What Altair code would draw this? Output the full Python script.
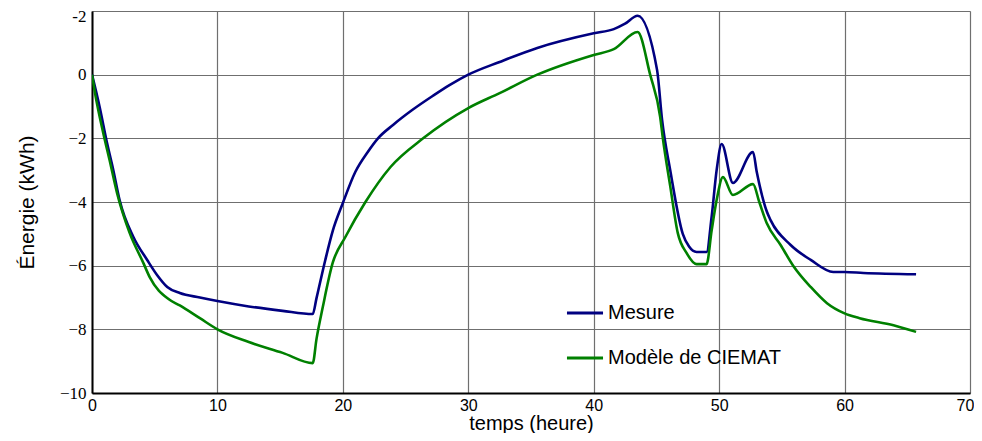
import altair as alt
import pandas as pd

# Mesure (blue)
t_mes = [0, 0.6, 1.2, 1.7, 2.2, 3.3, 4.4, 5.2, 6.0, 7.0, 8.6, 10.0, 12.5, 15.2, 17.6,
         17.9, 18.6, 19.2, 20.0, 21.0, 22.0, 22.8, 24.0, 25.5, 27.2, 28.5, 30.0, 32.5, 35.5,
         40.0, 41.6, 42.5, 43.5, 45.05, 45.45, 46.1, 47.1, 47.6, 48.2, 49.0, 49.4, 49.8,
         50.2, 51.1, 52.7, 53.0, 53.8, 54.1, 55.7, 57.3, 59.1, 60.0, 61.5, 65.7]
e_mes = [0, -1.0, -2.15, -3.0, -3.94, -5.1, -5.82, -6.3, -6.67, -6.86, -7.0, -7.11, -7.28, -7.42, -7.52,
         -7.02, -5.82, -4.9, -4.03, -3.05, -2.42, -2.0, -1.58, -1.12, -0.66, -0.33, 0.0, 0.4, 0.84,
         1.3, 1.43, 1.6, 1.85, 0.15, -1.42, -3.0, -5.0, -5.4, -5.57, -5.57, -4.47, -3.0,
         -2.18, -3.4, -2.43, -3.06, -4.3, -4.57, -5.35, -5.82, -6.2, -6.2, -6.23, -6.27]

# Modèle de CIEMAT (green)
t_mod = [0, 0.24, 0.9, 1.4, 2.0, 3.0, 4.1, 4.6, 6.1, 7.0, 8.6, 10.0, 12.5, 15.2, 17.6,
         17.9, 18.4, 19.2, 20.2, 21.8, 23.8, 26.4, 30.0, 32.5, 35.5, 40.0, 41.6, 43.5,
         44.5, 45.3, 45.5, 46.1, 46.7, 47.4, 48.2, 49.0, 49.4, 49.8, 50.3, 51.1, 52.7,
         53.2, 53.8, 54.9, 55.9, 57.3, 58.6, 60.0, 61.2, 63.9, 65.7]
e_mod = [0, -0.58, -1.84, -2.68, -3.72, -4.97, -5.92, -6.36, -7.05, -7.25, -7.65, -8.0, -8.4, -8.74, -9.06,
         -8.3, -7.3, -5.9, -5.1, -4.0, -2.9, -2.0, -1.05, -0.58, 0.0, 0.62, 0.8, 1.34,
         0.0, -1.33, -1.96, -3.5, -4.97, -5.6, -5.95, -5.95, -4.9, -3.94, -3.22, -3.78, -3.44,
         -4.0, -4.67, -5.35, -6.0, -6.67, -7.18, -7.5, -7.65, -7.87, -8.08]

series = ["Mesure", "Modèle de CIEMAT"]
colors = ["#000080", "#008000"]
x_ticks = [0, 10, 20, 30, 40, 50, 60, 70]
y_ticks = [-10, -8, -6, -4, -2, 0, 2]

df = pd.concat([
    pd.DataFrame({"t": t_mes, "E": e_mes, "serie": series[0], "i": range(len(t_mes))}),
    pd.DataFrame({"t": t_mod, "E": e_mod, "serie": series[1], "i": range(len(t_mod))}),
])

chart = alt.Chart(df).mark_line(strokeWidth=2.6, clip=True, interpolate="monotone").encode(
    x=alt.X("t:Q", scale=alt.Scale(domain=[0, 70], nice=False),
            axis=alt.Axis(values=x_ticks, title="temps (heure)", grid=True,
                          gridColor="#6f6f6f", gridWidth=1.2, gridOpacity=1,
                          domainColor="black", domainWidth=2, ticks=False,
                          labelPadding=4, labelFont="Liberation Sans", labelFontSize=16,
                          labelColor="black", labelFlush=False,
                          labelOffset={"condition": {"test": "datum.value == 70", "value": -5},
                                       "value": 0},
                          titleFont="Liberation Sans", titleFontSize=20, titleFontWeight="normal",
                          titleColor="black", titlePadding=0)),
    y=alt.Y("E:Q", scale=alt.Scale(domain=[-10, 2], nice=False),
            axis=alt.Axis(values=y_ticks, title="Énergie (kWh)", grid=True,
                          gridColor="#6f6f6f", gridWidth=1.2, gridOpacity=1,
                          domainColor="black", domainWidth=2, ticks=False,
                          labelPadding=6, labelFont="Liberation Serif", labelFontSize=17,
                          labelColor="black",
                          labelOffset={"condition": {"test": "datum.value == 2", "value": 5},
                                       "value": 0},
                          labelExpr="datum.value == 2 ? '-2' : datum.label",
                          titleFont="Liberation Sans", titleFontSize=21, titleFontWeight="normal",
                          titleColor="black", titlePadding=22)),
    color=alt.Color("serie:N", scale=alt.Scale(domain=series, range=colors),
                    legend=alt.Legend(title=None, orient="none", legendX=473, legendY=282,
                                      symbolType="stroke", symbolStrokeWidth=3,
                                      symbolSize=1300, labelFont="Liberation Sans",
                                      labelFontSize=20, labelColor="black", labelOffset=3,
                                      labelLimit=400, rowPadding=15, padding=0)),
    order="i:Q",
).properties(
    width=878, height=382,
    autosize=alt.AutoSizeParams(type="none"),
    padding={"left": 84, "top": 3, "right": 4, "bottom": 40},
).configure_view(
    stroke="black", strokeWidth=1.5
).configure(background="white")

chart.save("out.html", embed_options={"renderer": "svg", "actions": False})
